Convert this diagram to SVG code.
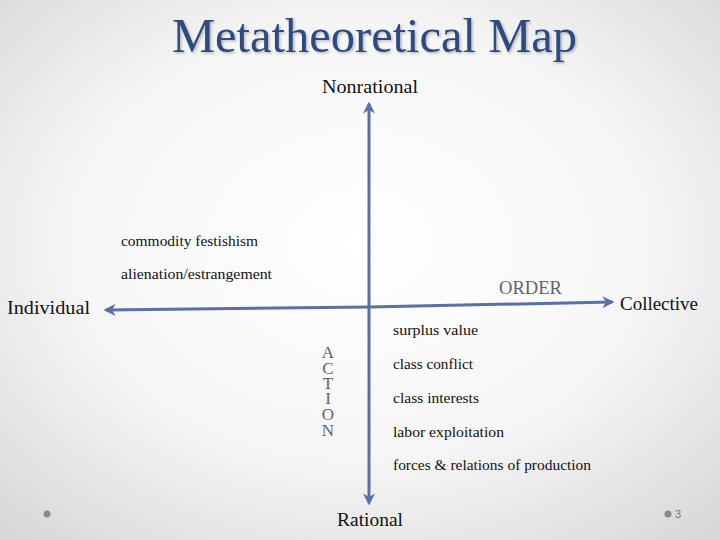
<svg xmlns="http://www.w3.org/2000/svg" width="720" height="540" viewBox="0 0 720 540">
<defs>
<radialGradient id="bg" cx="50%" cy="45%" r="72%">
<stop offset="0" stop-color="#ffffff"/>
<stop offset="0.55" stop-color="#f6f6f6"/>
<stop offset="1" stop-color="#d8d8d8"/>
</radialGradient>
<marker id="ah" viewBox="0 0 10 10" refX="8" refY="5" markerWidth="4" markerHeight="4" orient="auto" markerUnits="strokeWidth">
<path d="M0,0 L10,5 L0,10 L3,5 Z" fill="#5b6ea6"/>
</marker>
<filter id="sh" x="-5%" y="-20%" width="110%" height="150%">
<feDropShadow dx="1.5" dy="1.5" stdDeviation="0.8" flood-color="#000" flood-opacity="0.25"/>
</filter>
</defs>
<style>
.ax{stroke:#5b6ea6;stroke-width:3;fill:none;marker-end:url(#ah)}
.lbl{font-family:"Liberation Serif",serif;font-size:18px;fill:#111}
.sm{font-family:"Liberation Serif",serif;font-size:14px;fill:#111}
.gr{font-family:"Liberation Serif",serif;font-size:18px;fill:#5d6470}
.act{font-family:"Liberation Serif",serif;font-size:17px;fill:#5d6470}
</style>
<rect width="720" height="540" fill="url(#bg)"/>
<text x="172" y="52" font-family="Liberation Serif,serif" font-size="48" fill="#2f4b80" filter="url(#sh)" textLength="405" lengthAdjust="spacingAndGlyphs">Metatheoretical Map</text>
<g id="connectors">
<line class="ax" x1="369" y1="307" x2="369" y2="104"/>
<line class="ax" x1="369" y1="307" x2="369" y2="503"/>
<line class="ax" x1="369" y1="307" x2="106" y2="310"/>
<line class="ax" x1="369" y1="307" x2="612" y2="302"/>
</g>
<g id="nonrational"><text class="lbl" x="322" y="93" textLength="96" lengthAdjust="spacingAndGlyphs">Nonrational</text></g>
<g id="rational"><text class="lbl" x="337" y="526" textLength="66" lengthAdjust="spacingAndGlyphs">Rational</text></g>
<g id="individual"><text class="lbl" x="7" y="314" textLength="83" lengthAdjust="spacingAndGlyphs">Individual</text></g>
<g id="collective"><text class="lbl" x="620" y="310" textLength="78" lengthAdjust="spacingAndGlyphs">Collective</text></g>
<g id="order"><text class="gr" x="499" y="294" textLength="63" lengthAdjust="spacingAndGlyphs">ORDER</text></g>
<g id="action">
<text class="act" text-anchor="middle"><tspan x="328" y="358">A</tspan><tspan x="328" y="373.5">C</tspan><tspan x="328" y="389">T</tspan><tspan x="328" y="404">I</tspan><tspan x="328" y="420">O</tspan><tspan x="328" y="436">N</tspan></text>
</g>
<g id="left-items">
<text class="sm" x="121" y="246" textLength="137" lengthAdjust="spacingAndGlyphs">commodity festishism</text>
<text class="sm" x="121" y="279" textLength="151" lengthAdjust="spacingAndGlyphs">alienation/estrangement</text>
</g>
<g id="right-items">
<text class="sm" x="393" y="335" textLength="85" lengthAdjust="spacingAndGlyphs">surplus value</text>
<text class="sm" x="393" y="369" textLength="80" lengthAdjust="spacingAndGlyphs">class conflict</text>
<text class="sm" x="393" y="403" textLength="86" lengthAdjust="spacingAndGlyphs">class interests</text>
<text class="sm" x="393" y="437" textLength="111" lengthAdjust="spacingAndGlyphs">labor exploitation</text>
<text class="sm" x="393" y="470" textLength="198" lengthAdjust="spacingAndGlyphs">forces &amp; relations of production</text>
</g>
<g id="footer">
<circle cx="47" cy="514" r="3.5" fill="#8a8a8a"/>
<circle cx="668" cy="514" r="3.5" fill="#8a8a8a"/>
<text x="675" y="518" font-family="Liberation Sans,sans-serif" font-size="11" fill="#777">3</text>
</g>
</svg>
